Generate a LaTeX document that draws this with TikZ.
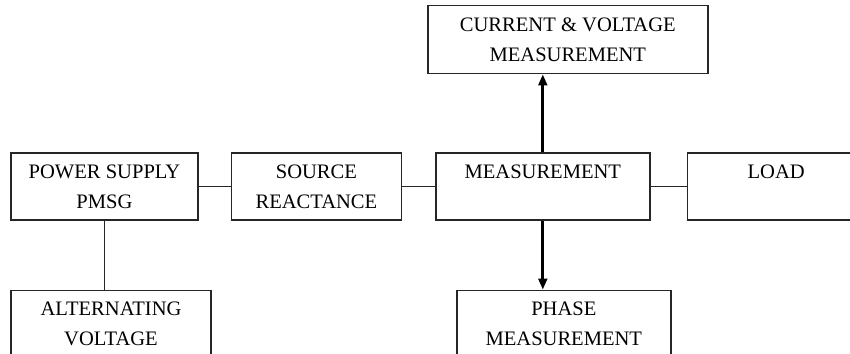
\documentclass[tikz,border=0pt]{standalone}
\usepackage{fontspec}
\setmainfont{Liberation Serif}
\usetikzlibrary{arrows.meta,positioning}

\begin{document}
\begin{tikzpicture}[
    font=\fontsize{11.7}{17}\selectfont,
    >={Triangle[length=2.2mm,width=1.7mm]},
    % Define styles for the blocks
    unit/.style={rectangle, draw=black!85, line width=0.8pt, align=center, inner sep=0pt, minimum height=1.34cm},
    link/.style={draw=black!85, line width=0.8pt},
    arrow/.style={->, draw=black, line width=1.6pt}
]
\useasboundingbox (0,0) rectangle (17,-7.08);
\clip (0,0) rectangle (17,-7.08);

% ==========================================
% Main row: supply to load
% ==========================================
\node[unit, minimum width=3.74cm] (supply) at (2.09,-3.73) {POWER SUPPLY\\PMSG};
\node[unit, minimum width=3.4cm, right=0.64cm of supply] (reactance) {SOURCE\\REACTANCE};
\node[unit, minimum width=4.28cm, right=0.66cm of reactance] (meas) {MEASUREMENT\\\mbox{}};
\node[unit, minimum width=3.56cm, right=0.72cm of meas] (load) {LOAD\\\mbox{}};

\draw[link] (supply) -- (reactance);
\draw[link] (reactance) -- (meas);
\draw[link] (meas) -- (load);

% ==========================================
% Measurement outputs
% ==========================================
\node[unit, minimum width=5.6cm, minimum height=1.36cm, above=1.56cm of meas, xshift=0.5cm] (cvmeas) {CURRENT \& VOLTAGE\\MEASUREMENT};
\node[unit, minimum width=4.28cm, below=1.38cm of meas, xshift=0.42cm] (phase) {PHASE\\MEASUREMENT};

\draw[arrow] (meas.north) -- (meas.north |- cvmeas.south);
\draw[arrow] (meas.south) -- (meas.south |- phase.north);

% ==========================================
% Source
% ==========================================
\node[unit, minimum width=4.0cm, below=1.38cm of supply, xshift=0.13cm] (altv) {ALTERNATING\\VOLTAGE};

\draw[link] (supply.south) -- (supply.south |- altv.north);

\end{tikzpicture}
\end{document}
